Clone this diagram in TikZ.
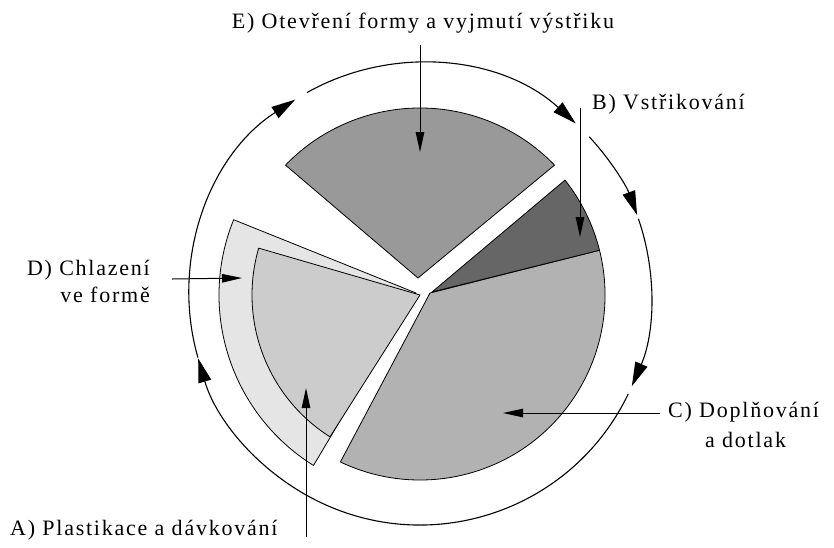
\documentclass[tikz,border=0pt]{standalone}
\usepackage{fontspec}
\newfontfamily\labfont{Liberation Serif}[LetterSpace=8]
\usetikzlibrary{arrows.meta}
\definecolor{cE}{gray}{0.60}
\definecolor{cB}{gray}{0.40}
\definecolor{cC}{gray}{0.70}
\definecolor{cA}{gray}{0.80}
\definecolor{cD}{gray}{0.90}
\begin{document}
\begin{tikzpicture}[x=1pt,y=1pt,line join=round,
  sect/.style={draw=black,line width=0.8pt},
  ring/.style={draw=black,line width=1.1pt,-{Triangle[length=24pt,width=13pt]}},
  lead/.style={draw=black,line width=1pt,-{Triangle[length=20pt,width=8.5pt]}},
  lab/.style={font=\labfont\fontsize{22}{26}\selectfont,inner sep=0pt}]
\useasboundingbox (0,0) rectangle (834,-547);
\coordinate (O) at (420,-295);
\coordinate (R) at (420,-294);
% sectors
\filldraw[sect,fill=cD] (416,-293) -- ([shift={(158:201)}]O) arc[start angle=158,end angle=238,radius=201pt] -- cycle;
\filldraw[sect,fill=cA] (420,-295) -- ([shift={(163.8:168)}]O) arc[start angle=163.8,end angle=237.6,radius=168pt] -- cycle;
\filldraw[sect,fill=cE] (418,-278) -- ([shift={(136:187)}]O) arc[start angle=136,end angle=44,radius=187pt] -- cycle;
\filldraw[sect,fill=cC] (430,-293) -- ([shift={(14:185)}]O) arc[start angle=14,end angle=-115.5,radius=185pt] -- cycle;
\filldraw[sect,fill=cB] (432,-292) -- ([shift={(38.4:185)}]O) arc[start angle=38.4,end angle=14,radius=185pt] -- cycle;
% ring with arrows
\draw[ring] ([shift={(196:231)}]R) arc[start angle=196,end angle=122.7,radius=231pt];
\draw[ring] ([shift={(119.3:231)}]R) arc[start angle=119.3,end angle=47.6,radius=231pt];
\draw[ring] ([shift={(42.9:231)}]R) arc[start angle=42.9,end angle=20,radius=231pt];
\draw[ring] ([shift={(19:231)}]R) arc[start angle=19,end angle=-23.5,radius=231pt];
\draw[ring] ([shift={(-25.6:231)}]R) arc[start angle=-25.6,end angle=-163.8,radius=231pt];
% labels
\node[lab,anchor=base] (lE) at (423,-28) {E) Otevření formy a vyjmutí výstřiku};
\node[lab,anchor=base west] (lB) at (592,-109) {B) Vstřikování};
\node[lab,anchor=base west] (lC) at (668,-417) {C) Doplňování};
\node[lab,anchor=base west] (lC2) at (705,-447) {a dotlak};
\node[lab,anchor=base east] (lD) at (150,-275) {D) Chlazení};
\node[lab,anchor=base east] (lD2) at (150,-302) {ve formě};
\node[lab,anchor=base west] (lA) at (10,-535) {A) Plastikace a dávkování};
% leader coordinates
\coordinate (eS) at (420,-45);  \coordinate (eT) at (420,-152);
\coordinate (bS) at (580,-108); \coordinate (bT) at (580,-237);
\coordinate (cS) at (660,-413); \coordinate (cT) at (503,-413);
\coordinate (dS) at (172,-279); \coordinate (dT) at (242,-278);
\coordinate (aS) at (306,-537); \coordinate (aT) at (306,-388);
\draw[lead] (eS) -- (eT);
\draw[lead] (bS) -- (bT);
\draw[lead] (cS) -- (cT);
\draw[lead] (dS) -- (dT);
\draw[lead] (aS) -- (aT);
\end{tikzpicture}
\end{document}
